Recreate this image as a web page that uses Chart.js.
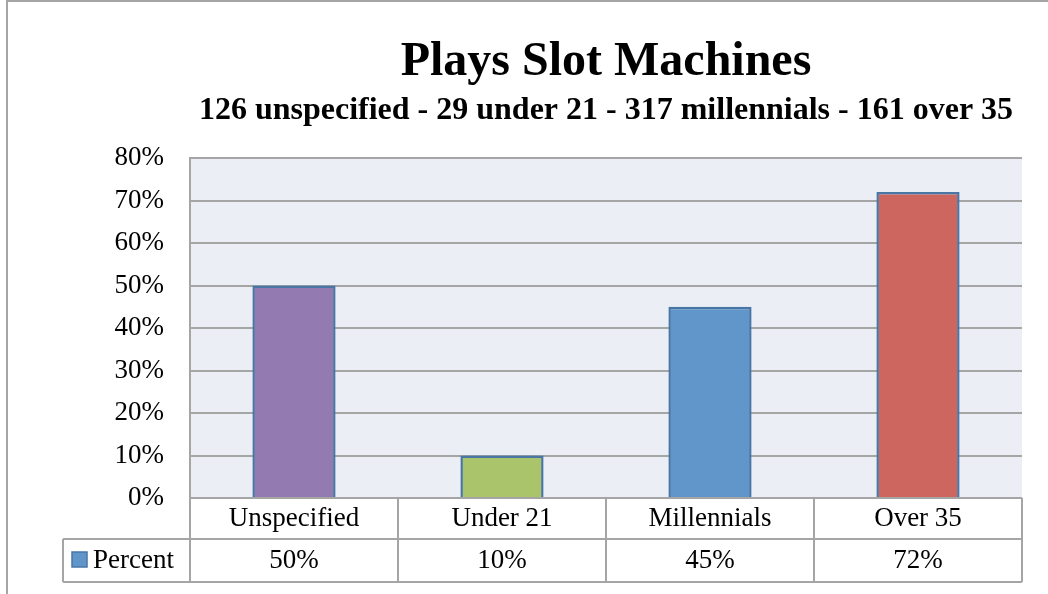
<!DOCTYPE html>
<html>
<head>
<meta charset="utf-8">
<script src="https://cdn.jsdelivr.net/npm/chart.js@4.4.1/dist/chart.umd.min.js"></script>
<style>
  body{margin:0;background:#fff}
  #wrap{width:1048px;height:594px}
</style>
</head>
<body>
<div id="wrap"><canvas id="slotChart" width="1048" height="594"></canvas></div>
<script>
// data
const categories   = ["Unspecified", "Under 21", "Millennials", "Over 35"];
const percentVals  = [50, 10, 45, 72];
const groupCounts  = [126, 29, 317, 161];
const groupWords   = ["unspecified", "under 21", "millennials", "over 35"];
const seriesName   = "Percent";
const yMax = 80, yStep = 10;

const barColors = ["#937ab1", "#a9c46b", "#6096c9", "#cc665f"];
const GRID = "#a5a5a5", FONT = "'Liberation Serif', 'DejaVu Serif', serif";

const subtitleText = groupCounts.map((n,i)=>n+" "+groupWords[i]).join(" - ");

// plot background, outer frame and the data table under the axis
const tablePlugin = {
  id:"dataTable",
  beforeDraw(chart){
    const {ctx, chartArea:a} = chart;
    ctx.save();
    ctx.fillStyle="#ebeef4";
    ctx.fillRect(a.left, a.top, a.right-a.left, a.bottom-a.top);
    ctx.strokeStyle=GRID; ctx.lineWidth=2;
    ctx.strokeRect(7, 1, 1100, 700);
    ctx.restore();
  },
  afterDraw(chart){
    const {ctx, chartArea:a, scales:{x}} = chart;
    const colW = (a.right-a.left)/categories.length;
    const r1 = a.bottom+41, r2 = a.bottom+84, legL = a.left-127;
    ctx.save();
    ctx.strokeStyle=GRID; ctx.lineWidth=2;
    ctx.beginPath();
    ctx.moveTo(a.left, a.bottom); ctx.lineTo(a.right, a.bottom);
    ctx.moveTo(legL, r1); ctx.lineTo(a.right, r1);
    ctx.moveTo(legL, r2); ctx.lineTo(a.right, r2);
    ctx.moveTo(legL, r1); ctx.lineTo(legL, r2);
    for (let i=0;i<=categories.length;i++){
      const px = x.getPixelForValue(i) - colW/2;
      ctx.moveTo(px, a.bottom); ctx.lineTo(px, r2);
    }
    ctx.stroke();

    ctx.fillStyle="#000"; ctx.font="27px "+FONT;
    ctx.textAlign="center"; ctx.textBaseline="middle";
    categories.forEach((c,i)=>{
      const px = x.getPixelForValue(i);
      ctx.fillText(c, px, (a.bottom+r1)/2);
      ctx.fillText(percentVals[i]+"%", px, (r1+r2)/2);
    });
    // legend key
    ctx.fillStyle=barColors[2]; ctx.strokeStyle="#4a76a6"; ctx.lineWidth=1.5;
    ctx.fillRect(legL+9, r1+13, 15, 15); ctx.strokeRect(legL+9, r1+13, 15, 15);
    ctx.fillStyle="#000"; ctx.textAlign="left";
    ctx.fillText(seriesName, legL+30, (r1+r2)/2);
    ctx.restore();
  }
};

Chart.defaults.font.family = FONT;
Chart.defaults.color = "#000";

new Chart(document.getElementById("slotChart").getContext("2d"), {
  type:"bar",
  data:{
    labels: categories,
    datasets:[{label:seriesName, data:percentVals, backgroundColor:barColors,
      borderColor:"#4a76a6", borderWidth:2.5, barPercentage:0.4, categoryPercentage:1}]
  },
  options:{
    responsive:false, animation:false,
    layout:{padding:{left:0, right:26, top:0, bottom:96}},
    plugins:{
      legend:{display:false}, tooltip:{enabled:false},
      title:{display:true, text:"Plays Slot Machines", fullSize:false, color:"#000",
        font:{size:48, weight:"bold"}, padding:{top:34, bottom:0}},
      subtitle:{display:true, text:subtitleText, fullSize:false, color:"#000",
        font:{size:32, weight:"bold"}, padding:{top:0, bottom:28}}
    },
    scales:{
      x:{display:false},
      y:{min:0, max:yMax, afterFit(s){ s.width=190; },
        border:{display:true, color:GRID, width:2},
        grid:{color:GRID, lineWidth:2, drawTicks:false},
        ticks:{stepSize:yStep, padding:26, font:{size:27}, color:"#000", callback:v=>v+"%"}}
    }
  },
  plugins:[tablePlugin]
});
</script>
</body>
</html>
